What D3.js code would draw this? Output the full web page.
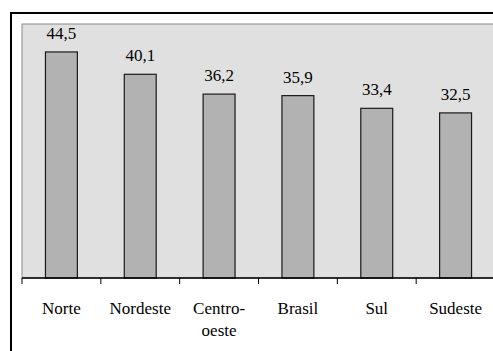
<!DOCTYPE html>
<html>
<head>
<meta charset="utf-8">
<script src="https://cdn.jsdelivr.net/npm/d3@7"></script>
</head>
<body style="margin:0">
<svg id="chart" width="493" height="351" font-family="Liberation Serif" font-size="17"></svg>
<script>
'use strict';

const categories = ['Norte', 'Nordeste', 'Centro-oeste', 'Brasil', 'Sul', 'Sudeste'];
const values = [44.5, 40.1, 36.2, 35.9, 33.4, 32.5];
const valueLabels = ['44,5', '40,1', '36,2', '35,9', '33,4', '32,5'];
const categoryLines = [['Norte'], ['Nordeste'], ['Centro-', 'oeste'], ['Brasil'], ['Sul'], ['Sudeste']];

const width = 493;
const plot = { left: 22, top: 24, right: 495, bottom: 278 };

const svg = d3.select('#chart');

// outer frame (runs off the right and bottom edge like the original)
svg.append('rect')
  .attr('x', 11)
  .attr('y', 13)
  .attr('width', 500)
  .attr('height', 360)
  .attr('fill', '#fff')
  .attr('stroke', '#000')
  .attr('stroke-width', 2);

const x = d3.scaleBand()
  .domain(categories)
  .range([plot.left, plot.right])
  .paddingInner(0.595)
  .paddingOuter(0.2975);

const y = d3.scaleLinear()
  .domain([0, 50])
  .range([plot.bottom, plot.top]);

// plot area
svg.append('rect')
  .attr('x', plot.left)
  .attr('y', plot.top)
  .attr('width', plot.right - plot.left + 5)
  .attr('height', plot.bottom - plot.top)
  .attr('fill', '#e0e0e0')
  .attr('stroke', '#8a8a8a')
  .attr('stroke-width', 1);

svg.selectAll('rect.bar')
  .data(values)
  .enter()
  .append('rect')
    .attr('class', 'bar')
    .attr('x', (d, i) => x(categories[i]))
    .attr('y', d => y(d))
    .attr('width', x.bandwidth())
    .attr('height', d => y(0) - y(d))
    .attr('fill', '#b2b2b2')
    .attr('stroke', '#1a1a1a')
    .attr('stroke-width', 1.2);

svg.selectAll('text.val')
  .data(values)
  .enter()
  .append('text')
    .attr('class', 'val')
    .attr('x', (d, i) => x(categories[i]) + x.bandwidth() / 2)
    .attr('y', d => y(d) - 13)
    .attr('text-anchor', 'middle')
    .text((d, i) => valueLabels[i]);

// x axis: line plus ticks between categories
const step = x.step();
const tickPos = d3.range(categories.length + 1).map(i => plot.left + i * step);

svg.append('line')
  .attr('x1', plot.left)
  .attr('x2', width)
  .attr('y1', plot.bottom)
  .attr('y2', plot.bottom)
  .attr('stroke', '#000')
  .attr('stroke-width', 1.5);

svg.selectAll('line.tick')
  .data(tickPos)
  .enter()
  .append('line')
    .attr('class', 'tick')
    .attr('x1', d => d)
    .attr('x2', d => d)
    .attr('y1', plot.bottom)
    .attr('y2', plot.bottom + 6)
    .attr('stroke', '#000')
    .attr('stroke-width', 1);

const catLabels = svg.selectAll('text.cat')
  .data(categories)
  .enter()
  .append('text')
    .attr('class', 'cat')
    .attr('x', d => x(d) + x.bandwidth() / 2)
    .attr('y', 314)
    .attr('text-anchor', 'middle');

catLabels.selectAll('tspan')
  .data((d, i) => categoryLines[i])
  .enter()
  .append('tspan')
    .attr('x', function () { return d3.select(this.parentNode).attr('x'); })
    .attr('dy', (d, i) => i === 0 ? 0 : 22)
    .text(d => d);
</script>
</body>
</html>
